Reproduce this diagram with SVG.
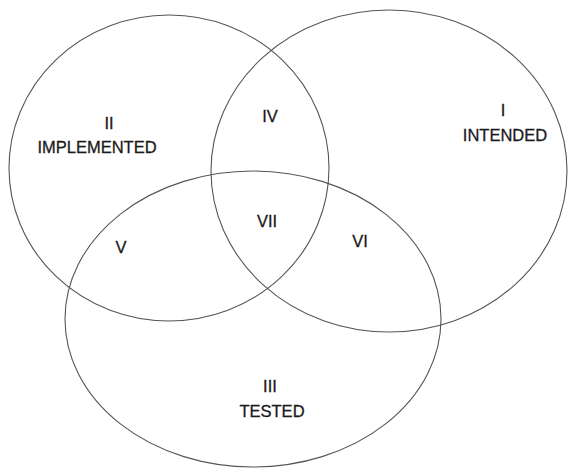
<svg xmlns="http://www.w3.org/2000/svg" width="568" height="468" viewBox="0 0 568 468">
<style>
.set{fill:none;stroke:#555;stroke-width:1.1}
.lbl{font-family:"Liberation Sans",Arial,sans-serif;font-size:16.5px;fill:#1a1a1a;stroke:#1a1a1a;stroke-width:0.3;text-anchor:middle}
</style>
<rect width="568" height="468" fill="#fff"/>
<g id="implemented">
<ellipse class="set" cx="169" cy="168" rx="160" ry="153"/>
<text class="lbl" x="109" y="129">II</text>
<text class="lbl" x="97" y="153">IMPLEMENTED</text>
</g>
<g id="intended">
<ellipse class="set" cx="389" cy="171" rx="178" ry="161"/>
<text class="lbl" x="503" y="116">I</text>
<text class="lbl" x="505" y="141">INTENDED</text>
</g>
<g id="tested">
<ellipse class="set" cx="253" cy="319" rx="188" ry="148"/>
<text class="lbl" x="270" y="392">III</text>
<text class="lbl" x="272" y="417">TESTED</text>
</g>
<g id="region-iv"><text class="lbl" x="270" y="122">IV</text></g>
<g id="region-v"><text class="lbl" x="121" y="253">V</text></g>
<g id="region-vi"><text class="lbl" x="360" y="247">VI</text></g>
<g id="region-vii"><text class="lbl" x="267" y="227">VII</text></g>
</svg>
